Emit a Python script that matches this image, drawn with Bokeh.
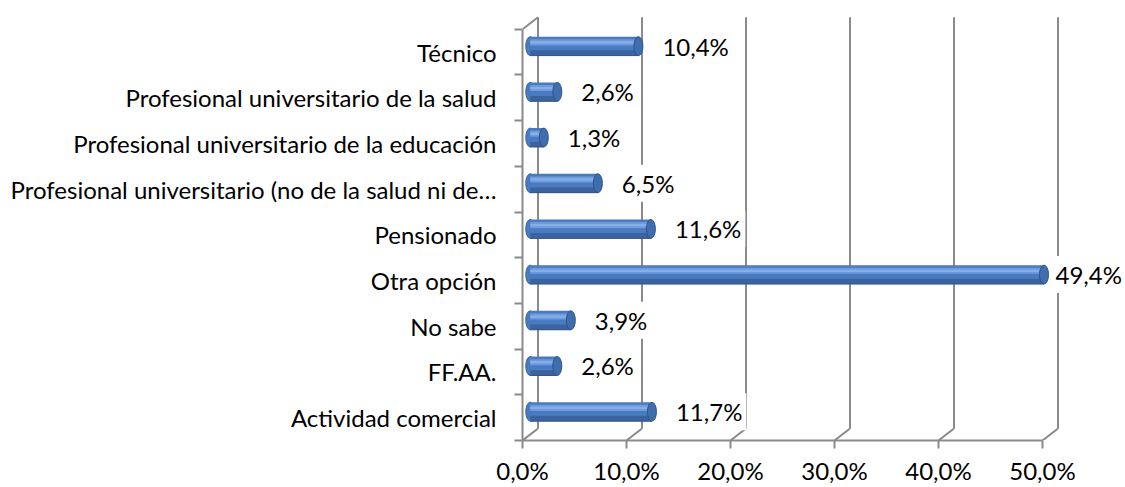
from bokeh.plotting import figure
from bokeh.models import Range1d, FixedTicker, ColumnDataSource
from bokeh.core.properties import value
from bokeh.embed import file_html
from bokeh.resources import INLINE

# ---------------- data ----------------
categories = [
    "Actividad comercial",
    "FF.AA.",
    "No sabe",
    "Otra opción",
    "Pensionado",
    "Profesional universitario (no de la salud ni de…",
    "Profesional universitario de la educación",
    "Profesional universitario de la salud",
    "Técnico",
]
values = [11.7, 2.6, 3.9, 49.4, 11.6, 6.5, 1.3, 2.6, 10.4]
value_labels = ["11,7%", "2,6%", "3,9%", "49,4%", "11,6%", "6,5%", "1,3%", "2,6%", "10,4%"]
x_ticks = [0, 10, 20, 30, 40, 50]
x_tick_labels = ["0,0%", "10,0%", "20,0%", "30,0%", "40,0%", "50,0%"]

# ---------------- layout / style ----------------
W, H = 1125, 487
LEFT = 522            # canvas px of x = 0
BOTTOM_PAD = 45       # px below the front floor line
PX_X = 10.4           # px per percent
PX_Y = 45.9           # px per category
DX = 15.5 / PX_X      # 3D depth offset (data units)
DY = 12.0 / PX_Y
BAR_H = 19.0 / PX_Y
BAR_X0 = DX / 2
GRID = "#8a8a8a"
FONT = "Lato"
FS = "24px"

n = len(categories)
x_end = (W - LEFT) / PX_X
y_end = (H - BOTTOM_PAD) / PX_Y

p = figure(width=W, height=H, output_backend="svg", toolbar_location=None,
           x_range=Range1d(0, x_end), y_range=Range1d(0, y_end),
           min_border_left=LEFT, min_border_right=0, min_border_top=0,
           min_border_bottom=BOTTOM_PAD)
p.outline_line_color = None
p.xgrid.visible = False
p.ygrid.visible = False
p.background_fill_color = "white"
p.border_fill_color = "white"

# back-wall gridlines and floor diagonals
gx = [t + DX for t in x_ticks]
p.segment(x0=gx, y0=[DY] * len(gx), x1=gx, y1=[n + DY] * len(gx),
          line_color=GRID, line_width=2)
p.segment(x0=x_ticks, y0=[0] * len(x_ticks), x1=gx, y1=[DY] * len(gx),
          line_color=GRID, line_width=2)
p.segment(x0=[0], y0=[n], x1=[DX], y1=[n + DY], line_color=GRID, line_width=2)

# cylinder bars
yc = [i + 0.5 + DY / 2 for i in range(n)]
ends = [BAR_X0 + v for v in values]
LAB_W = 68
offs = [min(20, W - 6 - LAB_W - (LEFT + e * PX_X)) for e in ends]
src = ColumnDataSource(dict(
    y=yc, left=[BAR_X0] * n, right=ends, lab=value_labels, off=offs,
    y_hi=[y + BAR_H * 0.2 for y in yc],
    y_lo=[y - BAR_H * 0.36 for y in yc],
    y_bot=[y - BAR_H / 2 for y in yc],
))

p.ellipse(x=BAR_X0, y="y", width=9, height=BAR_H, width_units="screen",
          source=src, fill_color="#4a7abf", line_color="#3a64a0", line_width=1)
p.hbar(y="y", left="left", right="right", height=BAR_H, source=src,
       fill_color="#4a7abf", line_color=None)
p.hbar(y="y_hi", left="left", right="right", height=BAR_H * 0.32, source=src,
       fill_color="#6e9ade", line_color=None)
p.hbar(y="y_hi", left="left", right="right", height=BAR_H * 0.12, source=src,
       fill_color="#86afe6", line_color=None)
p.hbar(y="y_lo", left="left", right="right", height=BAR_H * 0.28, source=src,
       fill_color="#3a63a0", line_color=None)
p.segment(x0="left", y0="y_bot", x1="right", y1="y_bot", source=src,
          line_color="#2f5489", line_width=1)
p.ellipse(x="right", y="y", width=9, height=BAR_H, width_units="screen",
          source=src, fill_color="#3f6dae", line_color="#2f5489", line_width=1)

# data labels (kept inside the chart)
p.text(x="right", y="y", text="lab", x_offset="off", source=src,
       text_font=value(FONT), text_font_size=FS, text_color="black",
       text_align="left", text_baseline="middle",
       background_fill_color="white", padding=4)

# axes
ya = p.yaxis[0]
ya.ticker = FixedTicker(ticks=[i + 0.5 for i in range(n)], minor_ticks=list(range(n + 1)))
ya.bounds = (0, n)
ya.major_label_overrides = {i + 0.5: c for i, c in enumerate(categories)}
ya.major_tick_out = 0
ya.major_tick_in = 0
ya.minor_tick_out = 8
ya.minor_tick_in = 0
ya.minor_tick_line_color = GRID
ya.minor_tick_line_width = 2
ya.axis_line_color = GRID
ya.axis_line_width = 2
ya.major_label_standoff = 18
ya.major_label_text_font = FONT
ya.major_label_text_font_size = FS
ya.major_label_text_color = "black"

xa = p.xaxis[0]
xa.ticker = FixedTicker(ticks=x_ticks, minor_ticks=[])
xa.bounds = (0, 50)
xa.major_label_overrides = {t: l for t, l in zip(x_ticks, x_tick_labels)}
xa.major_tick_out = 8
xa.major_tick_in = 0
xa.major_tick_line_color = GRID
xa.major_tick_line_width = 2
xa.axis_line_color = GRID
xa.axis_line_width = 2
xa.major_label_standoff = 7
xa.major_label_text_line_height = 1.0
xa.axis_label_standoff = 0
xa.major_label_text_font = FONT
xa.major_label_text_font_size = FS
xa.major_label_text_color = "black"

open("out.html", "w").write(file_html(p, INLINE))
